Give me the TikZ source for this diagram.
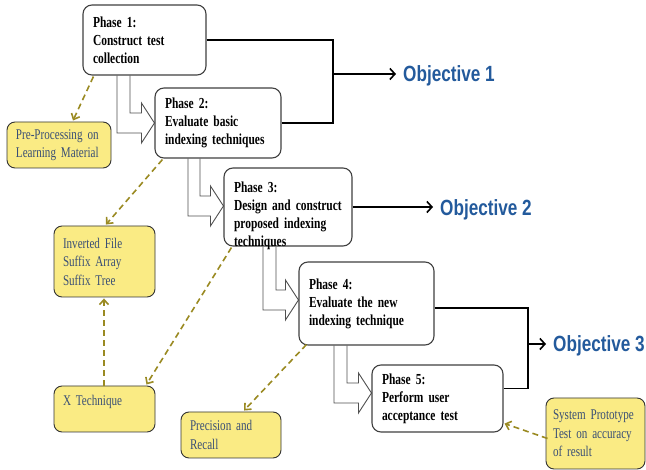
\documentclass[tikz,border=0pt]{standalone}
\usepackage{fontspec}
\setmainfont{Liberation Serif}[FakeStretch=0.75]
\newfontfamily\objfont{Liberation Sans}[FakeStretch=0.78]
\usetikzlibrary{arrows.meta,calc,backgrounds}

\definecolor{phaseborder}{HTML}{404040}
\definecolor{stageline}{HTML}{505050}
\definecolor{noteyellow}{HTML}{FAEB84}
\definecolor{noteborder}{HTML}{333333}
\definecolor{notetext}{HTML}{3A4F75}
\definecolor{olive}{HTML}{9A8A22}
\definecolor{objblue}{HTML}{235A9C}

% hollow bent arrow from one phase down and across to the next
% #1 source node, #2 target node, #3 outer x, #4 inner x, #5 tip offset (y)
\newcommand\stagearrow[5]{%
  \draw[hollow] (#1.south -| #3,0) |- ($(#2.west)+(-13,#5+10)$)
    -- ++(0,10) -- ($(#2.west)+(0,#5)$) -- ($(#2.west)+(-13,#5-20)$)
    -- ++(0,10) -| (#1.south -| #4,0);
}

\begin{document}
\hyphenpenalty=10000
\exhyphenpenalty=10000
\begin{tikzpicture}[x=1pt,y=-1pt,
  phase/.style={draw=phaseborder, line width=1.1pt, rounded corners=9pt,
    fill=white, align=left, inner xsep=10pt, inner ysep=0pt,
    font=\fontsize{15.3}{18}\selectfont\bfseries},
  note/.style={draw=noteborder, line width=0.9pt, rounded corners=8pt,
    fill=noteyellow, text=notetext, align=left, inner xsep=9pt, inner ysep=0pt,
    font=\fontsize{14.8}{18.5}\selectfont},
  hollow/.style={draw=stageline, line width=0.9pt, fill=white},
  objline/.style={draw=black, line width=1.6pt},
  objarrow/.style={objline, -{Straight Barb[length=5pt,width=11pt]}},
  objective/.style={anchor=west, inner xsep=7pt, inner ysep=0pt, text=objblue,
    font=\objfont\fontsize{22}{24}\selectfont\bfseries},
  link/.style={draw=olive, line width=1.6pt, dash pattern=on 6pt off 4pt,
    -{Straight Barb[length=5pt,width=9pt]}},
]
\useasboundingbox (0,0) rectangle (646,470);

% phase boxes
\node[phase, minimum width=123pt, minimum height=70pt, text width=103pt] (p1) at (144.5,40)
  {Phase 1:\\Construct test\\collection};
\node[phase, minimum width=126pt, minimum height=70pt, text width=106pt] (p2) at (218,123)
  {Phase 2:\\Evaluate basic\\indexing techniques};
\node[phase, minimum width=128pt, minimum height=78pt, text width=116pt, inner xsep=6pt,
  text height=25pt, text depth=53pt] (p3) at (288,207)
  {\hspace*{4pt}Phase 3:\\\hspace*{4pt}Design and construct\\\hspace*{4pt}proposed indexing\\\hspace*{4pt}techniques};
\node[phase, minimum width=135pt, minimum height=83pt, text width=115pt] (p4) at (366.5,303.5)
  {Phase 4:\\Evaluate the new\\indexing technique};
\node[phase, minimum width=131pt, minimum height=67pt, text width=111pt] (p5) at (437.5,398.5)
  {Phase 5:\\Perform user\\acceptance test};

% stage arrows sit behind the phase boxes
\begin{scope}[on background layer]
\stagearrow{p1}{p2}{117}{130}{0}
\stagearrow{p2}{p3}{188}{200}{-1}
\stagearrow{p3}{p4}{263}{276}{-3.5}
\stagearrow{p4}{p5}{334}{347}{-5.5}
\end{scope}

% supporting notes
\node[note, minimum width=104pt, minimum height=46pt, text width=86pt] (pre) at (59,145)
  {Pre-Processing on\\Learning Material};
\node[note, minimum width=101pt, minimum height=71pt, text width=83pt] (inv) at (104.5,261.5)
  {Inverted File\\Suffix Array\\Suffix Tree};
\node[note, minimum width=101pt, minimum height=46pt, text width=83pt,
  text height=20pt, text depth=26pt] (xt) at (104.5,409)
  {X Technique};
\node[note, minimum width=100pt, minimum height=46pt, text width=82pt] (prec) at (231,435)
  {Precision and\\Recall};
\node[note, minimum width=99pt, minimum height=71pt, text width=85pt, inner xsep=7pt] (sys) at (595.5,433.5)
  {System Prototype\\Test on accuracy\\of result};

% objectives
\coordinate (j1) at (333,74);
\coordinate (j3) at (528,344);
\node[objective, yshift=-2pt] (o1) at (396,74) {Objective 1};
\node[objective, yshift=-2pt] (o2) at (433,208) {Objective 2};
\node[objective, yshift=-2pt] (o3) at (546,344) {Objective 3};

\draw[objline] (p1.east) -| (j1);
\draw[objline] (p2.east) -| (j1);
\draw[objarrow] (j1) -- (j1 -| o1.west);
\draw[objarrow] (p3.east) -- (p3.east -| o2.west);
\draw[objline] ($(p4.east)+(0,4.5)$) -| (j3);
\draw[objline] ($(p5.east)+(0,-10)$) -| (j3);
\draw[objarrow] (j3) -- (j3 -| o3.west);

% dashed links between phases and notes
\draw[link] ($(p1.south west)+(11,1)$) -- ($(pre.north)+(14,-1)$);
\draw[link] ($(p2.south west)+(8,1)$) -- ($(inv.north)+(1.5,-1)$);
\draw[link] ($(xt.north)+(-0.5,0)$) -- ($(inv.south)+(-0.5,1)$);
\draw[link] ($(p3.south west)+(8,1)$) -- ($(xt.north east)+(-9,-1)$);
\draw[link] ($(p4.south west)+(8,-1)$) -- ($(prec.north)+(13,-1)$);
\draw[link] ($(sys.west)+(2,5)$) -- ($(p5.south east)+(1,-9)$);
\end{tikzpicture}
\end{document}
